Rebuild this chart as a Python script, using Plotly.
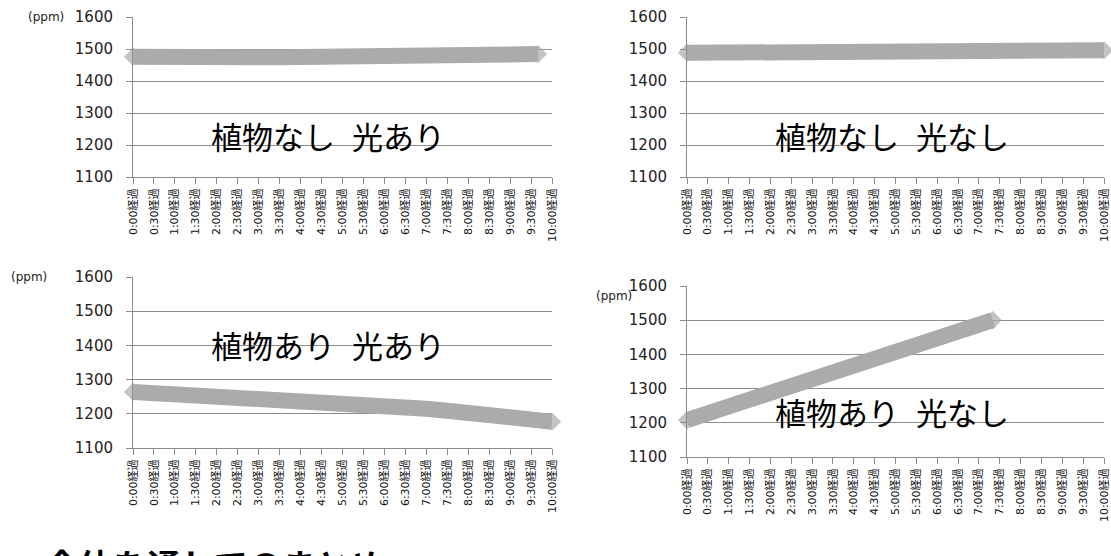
import plotly.graph_objects as go

# Elapsed time (minutes) and CO2 concentration (ppm) for the four conditions
t_noplant_light = [0, 30, 60, 90, 120, 150, 180, 210, 240, 270, 300, 330, 360, 390, 420, 450, 480, 510, 540, 570, 580]
co2_noplant_light = [1476, 1474, 1473, 1472, 1472, 1472, 1473, 1474, 1475, 1476, 1477, 1478, 1479, 1480, 1481, 1481, 1482, 1483, 1483, 1484, 1484]

t_noplant_dark = [0, 30, 60, 90, 120, 150, 180, 210, 240, 270, 300, 330, 360, 390, 420, 450, 480, 510, 540, 570, 600]
co2_noplant_dark = [1488, 1488, 1488, 1488, 1489, 1489, 1490, 1490, 1491, 1491, 1492, 1492, 1493, 1493, 1494, 1494, 1495, 1495, 1495, 1496, 1496]

t_plant_light = [0, 30, 60, 90, 120, 150, 180, 210, 240, 270, 300, 330, 360, 390, 420, 450, 480, 510, 540, 570, 600]
co2_plant_light = [1264, 1261, 1258, 1256, 1254, 1252, 1249, 1246, 1242, 1238, 1234, 1230, 1226, 1221, 1215, 1209, 1203, 1197, 1190, 1183, 1177]

t_plant_dark = [0, 30, 60, 90, 120, 150, 180, 210, 240, 270, 300, 330, 360, 390, 420, 440]
co2_plant_dark = [1208, 1228, 1248, 1268, 1288, 1308, 1327, 1347, 1367, 1387, 1407, 1427, 1447, 1467, 1487, 1500]

panel_titles = [("植物なし", "光あり"), ("植物なし", "光なし"), ("植物あり", "光あり"), ("植物あり", "光なし")]
summary_text = "全体を通してのまとめ"
unit_label = "(ppm)"

tick_minutes = list(range(0, 601, 30))
tick_labels = [f"{m // 60}:{m % 60:02d}経過" for m in tick_minutes]
y_ticks = [1100, 1200, 1300, 1400, 1500, 1600]

W, H = 1111, 556


def px_x(p):
    return p / W


def px_y(p):
    return 1 - p / H


series = [
    (t_noplant_light, co2_noplant_light),
    (t_noplant_dark, co2_noplant_dark),
    (t_plant_light, co2_plant_light),
    (t_plant_dark, co2_plant_dark),
]

# pixel boxes of each plot area: (left, right, top, bottom)
boxes = [
    (133, 552, 17, 177),
    (687, 1104, 17, 177),
    (133, 552, 277, 448),
    (687, 1104, 286, 457),
]

band_color = "#ABABAB"
grid_color = "#8C8C8C"
text_font = "DejaVu Sans, Noto Sans CJK JP, sans-serif"
cjk_font = "Noto Sans CJK JP, sans-serif"

fig = go.Figure()
layout = dict(
    width=W,
    height=H,
    margin=dict(l=0, r=0, t=0, b=0, autoexpand=False),
    paper_bgcolor="white",
    plot_bgcolor="white",
    showlegend=False,
    annotations=[],
)

for i, ((tx, ty), (l, r, t, b)) in enumerate(zip(series, boxes)):
    n = "" if i == 0 else str(i + 1)
    # pointed diamond caps only at the two ends of the band
    sizes = [14 if k in (0, len(tx) - 1) else 0 for k in range(len(tx))]
    fig.add_trace(go.Scatter(
        x=tx, y=ty, mode="lines+markers",
        line=dict(color=band_color, width=16),
        marker=dict(symbol="diamond", size=sizes, color=band_color, line=dict(width=0)),
        xaxis="x" + n, yaxis="y" + n, cliponaxis=False, hoverinfo="skip",
    ))
    layout["xaxis" + n] = dict(
        domain=[px_x(l), px_x(r)], anchor="y" + n, range=[0, 600],
        tickmode="array", tickvals=tick_minutes, ticktext=tick_labels,
        tickangle=-90, ticks="outside", ticklen=6, tickcolor=grid_color,
        showline=True, linecolor=grid_color, linewidth=1,
        showgrid=False, zeroline=False, automargin=False,
        ticklabeloverflow="allow",
        tickfont=dict(family=text_font, size=11, color="#111111"),
    )
    layout["yaxis" + n] = dict(
        domain=[px_y(b), px_y(t)], anchor="x" + n, range=[1100, 1600],
        tickmode="array", tickvals=y_ticks,
        ticks="outside", ticklen=6, tickcolor=grid_color,
        showline=True, linecolor=grid_color, linewidth=1,
        showgrid=True, gridcolor=grid_color, gridwidth=1, zeroline=False,
        automargin=False,
        tickfont=dict(family=text_font, size=15, color="#222222"),
        ticklabelstandoff=10,
    )

# panel titles
title_pos = [(328, 135), (892, 135), (328, 344), (892, 411)]
for (a, b2), (cx, cy) in zip(panel_titles, title_pos):
    layout["annotations"].append(dict(
        x=px_x(cx), y=px_y(cy), xref="paper", yref="paper",
        text=f"{a}<span style='font-size:17px'>　</span>{b2}",
        showarrow=False, xanchor="center", yanchor="middle",
        font=dict(family=cjk_font, size=31, color="#000000"),
    ))

# unit labels
for (cx, cy) in [(46, 17), (29, 277), (614, 296)]:
    layout["annotations"].append(dict(
        x=px_x(cx), y=px_y(cy), xref="paper", yref="paper", text=unit_label,
        showarrow=False, xanchor="center", yanchor="middle",
        font=dict(family=text_font, size=12, color="#222222"),
    ))

# summary heading below the charts
layout["annotations"].append(dict(
    x=px_x(43), y=px_y(564), xref="paper", yref="paper", text=summary_text,
    showarrow=False, xanchor="left", yanchor="middle",
    font=dict(family=cjk_font, size=34, color="#000000", weight="bold"),
))

fig.update_layout(**layout)
fig.write_html("out.html")
